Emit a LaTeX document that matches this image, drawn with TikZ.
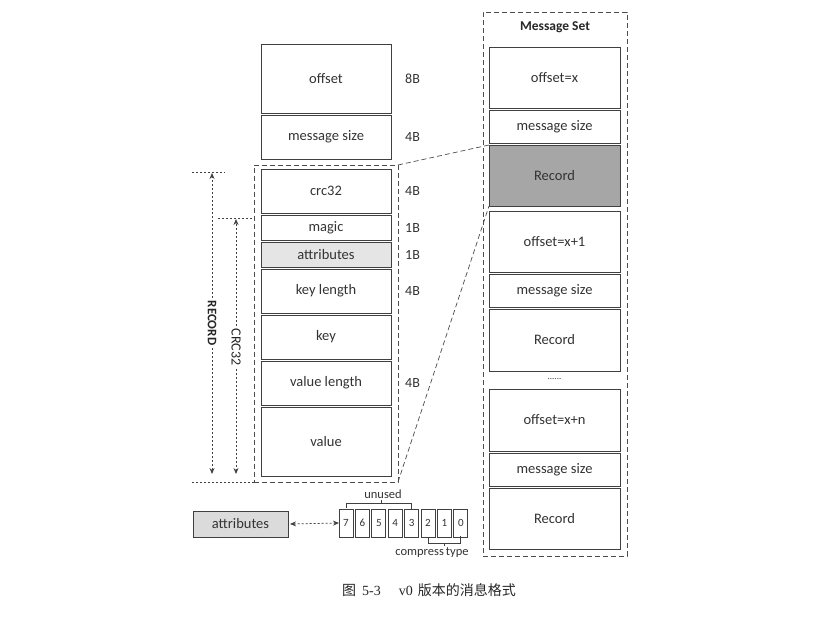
\documentclass[tikz,border=0pt]{standalone}
\usepackage{fontspec}
\setmainfont{Carlito}
\newfontfamily\cjk{Noto Sans CJK SC}
\newfontfamily\capser{Liberation Serif}
\usetikzlibrary{arrows.meta,shadows}
\tikzset{
  cell/.style={draw=black!75, line width=0.9pt, fill=white, inner sep=0pt, outer sep=0pt,
    font=\fontsize{14.5}{16}\selectfont, text=black!80,
    drop shadow={shadow xshift=1.2pt, shadow yshift=-1.2pt, opacity=0.35, fill=black!60}},
  sz/.style={anchor=west, font=\fontsize{14}{16}\selectfont, text=black!80, inner sep=0pt},
  bit/.style={draw=black!75, line width=0.7pt, fill=white, minimum width=14pt, minimum height=28pt,
    inner sep=0pt, outer sep=0pt, font=\fontsize{11}{12}\selectfont, text=black!80},
  dsh/.style={dash pattern=on 5pt off 3pt, line width=0.7pt, draw=black!70},
  dots/.style={dash pattern=on 2pt off 2pt, line width=0.8pt, draw=black!75},
  small/.style={font=\fontsize{12.5}{14}\selectfont, text=black!80, inner sep=0pt}
}
\begin{document}
\begin{tikzpicture}[x=1pt,y=-1pt]
\useasboundingbox (0,0) rectangle (820,627);
% ---------- left column ----------
\node[cell, minimum width=130pt, minimum height=69pt] (off) at (326,78.5) {offset};
\node[cell, minimum width=130pt, minimum height=44pt] (ms) at (326,137) {message size};
\node[dsh, minimum width=144pt, minimum height=317pt, inner sep=0pt, outer sep=0pt] (rec) at (326,323.5) {};
\node[cell, minimum width=130pt, minimum height=44pt] (crc) at (326,191) {crc32};
\node[cell, minimum width=130pt, minimum height=25pt] (mag) at (326,227.5) {\raisebox{-1.5pt}{magic}};
\node[cell, fill=black!10, minimum width=130pt, minimum height=25pt] (att) at (326,254.5) {attributes};
\node[cell, minimum width=130pt, minimum height=44pt] (kl) at (326,291) {key length};
\node[cell, minimum width=130pt, minimum height=44pt] (key) at (326,337) {key};
\node[cell, minimum width=130pt, minimum height=44pt] (vl) at (326,383) {value length};
\node[cell, minimum width=130pt, minimum height=69pt] (val) at (326,441.5) {value};
% sizes
\node[sz] (s1) at (405,78.5) {8B};
\node[sz] (s2) at (405,137) {4B};
\node[sz] (s3) at (405,191) {4B};
\node[sz] (s4) at (405,228) {1B};
\node[sz] (s5) at (405,255) {1B};
\node[sz] (s6) at (405,291) {4B};
\node[sz] (s7) at (405,383) {4B};
% ---------- RECORD / CRC32 ranges ----------
\coordinate (rt1) at (192,172);
\coordinate (rt2) at (225,172);
\coordinate (rb1) at (192,482);
\coordinate (ct1) at (218,218);
\coordinate (ct2) at (254,218);
\coordinate (rtop) at (212,173);
\coordinate (rbot) at (212,474);
\coordinate (ctop) at (236,219);
\coordinate (cbot) at (236,474);
\draw[dots] (rt1) -- (rt2);
\draw[dots] (rb1) -- (rec.south west);
\draw[dots] (ct1) -- (ct2);
\node[rotate=-90, inner sep=3pt, font=\bfseries\fontsize{13}{14}\selectfont, text=black!85] (lrec) at (212,323) {RECORD};
\node[rotate=-90, inner sep=3pt, font=\fontsize{14}{15}\selectfont, text=black!85] (lcrc) at (236,347) {CRC32};
\draw[dots, -{Stealth[length=6pt,width=5pt]}] (lrec.west) -- (rtop);
\draw[dots, -{Stealth[length=6pt,width=5pt]}] (lrec.east) -- (rbot);
\draw[dots, -{Stealth[length=6pt,width=5pt]}] (lcrc.west) -- (ctop);
\draw[dots, -{Stealth[length=6pt,width=5pt]}] (lcrc.east) -- (cbot);
% ---------- Message Set ----------
\node[dsh, minimum width=144pt, minimum height=544pt, inner sep=0pt, outer sep=0pt] (mset) at (555,284) {};
\node[font=\bfseries\fontsize{13.5}{14}\selectfont, text=black!85, inner sep=0pt] (mtitle) at (555,27) {Message Set};
\node[cell, minimum width=131pt, minimum height=61pt] (o1) at (554.5,77.5) {offset=x};
\node[cell, minimum width=131pt, minimum height=33pt] (m1) at (554.5,126.5) {message size};
\node[cell, fill=black!35, minimum width=131pt, minimum height=61pt] (r1) at (554.5,175.5) {Record};
\node[cell, minimum width=131pt, minimum height=61pt] (o2) at (554.5,241.5) {offset=x+1};
\node[cell, minimum width=131pt, minimum height=33pt] (m2) at (554.5,290.5) {message size};
\node[cell, minimum width=131pt, minimum height=62pt] (r2) at (554.5,340) {Record};
\node[font=\fontsize{9}{10}\selectfont, text=black!80, inner sep=0pt] (dd) at (554.5,379) {......};
\node[cell, minimum width=131pt, minimum height=62pt] (o3) at (554.5,420) {offset=x+n};
\node[cell, minimum width=131pt, minimum height=33pt] (m3) at (554.5,469.5) {message size};
\node[cell, minimum width=131pt, minimum height=61pt] (r3) at (554.5,518.5) {Record};
% zoom connectors
\draw[dsh] (rec.north east) -- (r1.north west);
\draw[dsh] (rec.south east) -- (r1.south west);
% ---------- attributes bits ----------
\node[cell, fill=black!14, minimum width=95pt, minimum height=26pt] (ab) at (240.5,524) {attributes};
\foreach \i/\x in {7/346,6/362.4,5/378.8,4/395.2,3/411.6,2/428,1/444.4,0/460.8}{
  \node[bit] (b\i) at (\x,523) {\i};
}
\draw[dots, {Stealth[length=6pt,width=5pt]}-{Stealth[length=6pt,width=5pt]}] (ab.east) ++(2pt,0) coordinate (abe) (abe) -- (b7.west);
% unused bracket
\draw[line width=0.7pt, draw=black!75] (b7.north) ++(0,-1) -- ++(0,-5) -| ([yshift=-1pt]b3.north);
\coordinate (ut) at (381,503);
\node[small] (unused) at (383,494) {unused};
\draw[line width=0.7pt, draw=black!75] (ut) -- ++(0,-3);
% compress type bracket
\draw[line width=0.7pt, draw=black!75] (b2.south) ++(0,1) -- ++(0,5) -| ([yshift=1pt]b0.south);
\coordinate (ct) at (444.4,543);
\draw[line width=0.7pt, draw=black!75] (ct) -- ++(0,3);
\node[small] (comp) at (432,553) {compress\,type};
% ---------- caption ----------
\node[inner sep=0pt, text=black!85] (cap) at (429,590)
  {{\cjk\fontsize{14}{16}\selectfont 图}\hspace{6pt}{\capser\fontsize{14}{16}\selectfont 5-3}\hspace{18pt}{\capser\fontsize{14}{16}\selectfont v0}\hspace{5pt}{\cjk\fontsize{14}{16}\selectfont 版本的消息格式}};
\end{tikzpicture}
\end{document}
